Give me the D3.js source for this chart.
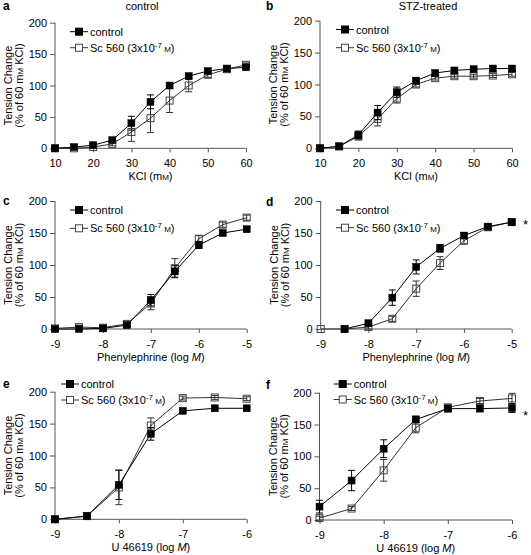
<!DOCTYPE html>
<html><head><meta charset="utf-8">
<script src="https://cdn.jsdelivr.net/npm/d3@7"></script>
<style>
body{margin:0;background:#fff}
svg{display:block}
text{font-family:"Liberation Sans",Arial,Helvetica,sans-serif;}
</style>
</head><body>
<svg id="chart" width="531" height="555"></svg>
<script>
// ---------- data ----------
const kclConc = [10, 15, 20, 25, 30, 35, 40, 45, 50, 55, 60];
const pheConc = [-9, -8.5, -8, -7.5, -7, -6.5, -6, -5.5, -5];
const u46Conc = [-9, -8.5, -8, -7.5, -7, -6.5, -6];

const kclTicks = [10, 20, 30, 40, 50, 60];
const pheTicks = [-9, -8, -7, -6, -5];
const u46Ticks = [-9, -8, -7, -6];
const yTicks = [0, 50, 100, 150, 200];

const seriesNames = ["control", "Sc 560"];

// panel a: KCl, control rats
const aCtrl    = [0, 2, 5, 13, 40, 74, 100, 115, 123, 127, 129];
const aCtrlErr = [1, 1, 2, 3, 11, 11, 4, 4, 3, 2, 3];
const aSc      = [0, 0, 2, 7, 26, 48, 76, 100, 117, 126, 133];
const aScErr   = [1, 1, 2, 3, 15, 23, 19, 10, 4, 3, 3];
// panel b: KCl, STZ-treated
const bCtrl    = [0, 3, 21, 56, 88, 106, 118, 122, 124, 125, 125];
const bCtrlErr = [1, 1, 6, 11, 8, 5, 3, 3, 3, 3, 3];
const bSc      = [0, 3, 19, 46, 78, 100, 110, 113, 113, 114, 116];
const bScErr   = [1, 1, 6, 11, 7, 4, 3, 3, 3, 3, 3];
// panel c: phenylephrine, control rats
const cCtrl    = [0, 0, 1, 6, 45, 90, 131, 150, 156];
const cCtrlErr = [2, 2, 2, 3, 9, 9, 5, 4, 4];
const cSc      = [1, 3, 2, 8, 40, 95, 141, 163, 174];
const cScErr   = [2, 3, 2, 3, 10, 15, 5, 4, 4];
// panel d: phenylephrine, STZ-treated
const dCtrl    = [null, 0, 9, 49, 97, 126, 146, 160, 167];
const dCtrlErr = [null, 2, 4, 12, 11, 6, 4, 4, 4];
const dSc      = [0, 0, 3, 16, 63, 103, 138, 159, 167];
const dScErr   = [2, 2, 4, 4, 12, 10, 5, 4, 4];
// panel e: U 46619, control rats
const eCtrl    = [0, 5, 54, 134, 170, 174, 174];
const eCtrlErr = [2, 2, 23, 10, 3, 3, 3];
const eSc      = [0, 5, 50, 147, 190, 191, 189];
const eScErr   = [2, 2, 27, 12, 3, 3, 3];
// panel f: U 46619, STZ-treated
const fCtrl    = [21, 62, 112, 158, 175, 175, 176];
const fCtrlErr = [10, 16, 14, 5, 5, 4, 7];
const fSc      = [3, 18, 78, 145, 177, 187, 191];
const fScErr   = [3, 3, 17, 8, 4, 4, 8];

// ---------- layout ----------
const panels = [
  {letter:"a", title:"control", conc:kclConc, ticks:kclTicks, ctrl:aCtrl, ctrlErr:aCtrlErr, sc:aSc, scErr:aScErr,
   xl:"kcl", left:55, right:246, bottom:148.3, top:22.7, legX:79, legY:[31.7,47.7], letterY:10, star:false},
  {letter:"b", title:"STZ-treated", conc:kclConc, ticks:kclTicks, ctrl:bCtrl, ctrlErr:bCtrlErr, sc:bSc, scErr:bScErr,
   xl:"kcl", left:320, right:512, bottom:148.3, top:20.7, legX:345, legY:[29.5,47.7], letterY:10, star:false},
  {letter:"c", conc:pheConc, ticks:pheTicks, ctrl:cCtrl, ctrlErr:cCtrlErr, sc:cSc, scErr:cScErr,
   xl:"phe", left:55, right:246.7, bottom:329, top:201, legX:79, legY:[210,228.3], letterY:205, star:false},
  {letter:"d", conc:pheConc, ticks:pheTicks, ctrl:dCtrl, ctrlErr:dCtrlErr, sc:dSc, scErr:dScErr,
   xl:"phe", left:320.7, right:511.7, bottom:329, top:201, legX:345, legY:[210,227.7], letterY:206, star:true, starY:229},
  {letter:"e", conc:u46Conc, ticks:u46Ticks, ctrl:eCtrl, ctrlErr:eCtrlErr, sc:eSc, scErr:eScErr,
   xl:"u46", left:55, right:246.7, bottom:519.3, top:391.7, legX:70, legY:[384,400], letterY:388, star:false},
  {letter:"f", conc:u46Conc, ticks:u46Ticks, ctrl:fCtrl, ctrlErr:fCtrlErr, sc:fSc, scErr:fScErr,
   xl:"u46", left:319.5, right:512, bottom:520, top:392.7, legX:342.7, legY:[384,399.5], letterY:389, star:true, starY:420}
];

const svg = d3.select("#chart");
const FS = 11;
const ctrlCol = "#000";
const scCol = "#333";
const axisCol = "#555";
const MS = 7;

function smallM(sel, before, after) {
  sel.append("tspan").text(before);
  sel.append("tspan").attr("font-size", 8).text("M");
  sel.append("tspan").text(after);
}

panels.forEach(p => {
  const g = svg.append("g");
  const x = d3.scaleLinear().domain([p.conc[0], p.conc[p.conc.length-1]]).range([p.left, p.right]);
  const y = d3.scaleLinear().domain([0, 200]).range([p.bottom, p.top]);

  // panel letter
  g.append("text").attr("x", p.left < 100 ? 3 : 266).attr("y", p.letterY)
    .attr("font-size", FS + 1).attr("font-weight", "bold").text(p.letter);
  if (p.title) {
    g.append("text").attr("x", p.left < 100 ? 142 : 428).attr("y", 10)
      .attr("font-size", FS).attr("text-anchor", "middle").text(p.title);
  }

  // axes
  const yAx = g.append("g").attr("transform", `translate(${p.left},0)`)
    .call(d3.axisLeft(y).tickValues(yTicks).tickSize(5).tickPadding(3).tickFormat(d => String(d)));
  const xAx = g.append("g").attr("transform", `translate(0,${p.bottom})`)
    .call(d3.axisBottom(x).tickValues(p.ticks).tickSize(4).tickPadding(7).tickFormat(d => String(d)));
  [yAx, xAx].forEach(a => {
    a.select(".domain").attr("stroke", axisCol);
    a.selectAll(".tick line").attr("stroke", axisCol);
    a.selectAll("text").attr("font-size", FS).attr("fill", "#000")
      .attr("font-family", '"Liberation Sans",Arial,sans-serif');
  });
  yAx.select(".domain").attr("d", `M0,${y(0)}V${y(200)}`);
  xAx.select(".domain").attr("d", `M${p.left},0H${p.right}`);

  // y title
  const cy = (p.top + p.bottom) / 2;
  g.append("text").attr("transform", `translate(${p.left - 43},${cy}) rotate(-90)`)
    .attr("font-size", FS).attr("text-anchor", "middle").text("Tension Change");
  const t2 = g.append("text").attr("transform", `translate(${p.left - 32},${cy}) rotate(-90)`)
    .attr("font-size", FS).attr("text-anchor", "middle");
  smallM(t2, "(% of 60 m", " KCl)");

  // x title
  const xt = g.append("text").attr("x", (p.left + p.right) / 2).attr("y", p.bottom + 32)
    .attr("font-size", FS).attr("text-anchor", "middle");
  if (p.xl === "kcl") {
    smallM(xt, "KCl (m", ")");
  } else {
    xt.append("tspan").text(p.xl === "phe" ? "Phenylephrine (log " : "U 46619 (log ");
    xt.append("tspan").attr("font-style", "italic").text("M");
    xt.append("tspan").text(")");
  }

  // series
  const series = [
    {vals:p.sc, err:p.scErr, col:scCol, filled:false},
    {vals:p.ctrl, err:p.ctrlErr, col:ctrlCol, filled:true}
  ];
  const line = d3.line().defined(d => d.v != null).x(d => x(d.c)).y(d => y(d.v));
  series.forEach(s => {
    const pts = p.conc.map((c, i) => ({c, v:s.vals[i], e:s.err[i]}));
    g.append("path").datum(pts).attr("d", line).attr("fill", "none")
      .attr("stroke", s.col).attr("stroke-width", 1);
    const eb = g.append("g").attr("stroke", s.col).attr("stroke-width", 1);
    pts.filter(d => d.v != null && d.e > 2).forEach(d => {
      const cx = x(d.c), y1 = y(d.v + d.e), y2 = y(Math.max(0, d.v - d.e));
      eb.append("line").attr("x1", cx).attr("x2", cx).attr("y1", y1).attr("y2", y2);
      eb.append("line").attr("x1", cx - 3.5).attr("x2", cx + 3.5).attr("y1", y1).attr("y2", y1);
      eb.append("line").attr("x1", cx - 3.5).attr("x2", cx + 3.5).attr("y1", y2).attr("y2", y2);
    });
    s.pts = pts;
  });
  series.forEach(s => {
    g.append("g").selectAll("rect").data(s.pts.filter(d => d.v != null)).join("rect")
      .attr("x", d => x(d.c) - MS/2).attr("y", d => y(d.v) - MS/2)
      .attr("width", MS).attr("height", MS)
      .attr("fill", s.filled ? "#000" : "none")
      .attr("stroke", s.filled ? "#000" : "#444").attr("stroke-width", s.filled ? 0.5 : 1);
  });

  // legend
  const lg = g.append("g");
  [0, 1].forEach(i => {
    const ly = p.legY[i];
    const col = i === 0 ? ctrlCol : scCol;
    lg.append("line").attr("x1", p.legX - 9).attr("x2", p.legX + 9).attr("y1", ly).attr("y2", ly)
      .attr("stroke", col).attr("stroke-width", 1);
    lg.append("rect").attr("x", p.legX - MS/2).attr("y", ly - MS/2).attr("width", MS).attr("height", MS)
      .attr("fill", i === 0 ? "#000" : "#fff").attr("stroke", i === 0 ? "#000" : "#444");
    const tx = lg.append("text").attr("x", p.legX + 11).attr("y", ly + 4).attr("font-size", FS);
    if (i === 0) tx.text(seriesNames[0]);
    else {
      tx.append("tspan").text(seriesNames[1] + " (3x10");
      tx.append("tspan").attr("font-size", 8).attr("dy", -4).text("-7");
      tx.append("tspan").attr("font-size", 8).attr("dy", 4).text(" M");
      tx.append("tspan").text(")");
    }
  });

  if (p.star) {
    g.append("text").attr("x", 525.5).attr("y", p.starY).attr("font-size", 13)
      .attr("text-anchor", "middle").text("*");
  }
});
</script>
</body></html>
